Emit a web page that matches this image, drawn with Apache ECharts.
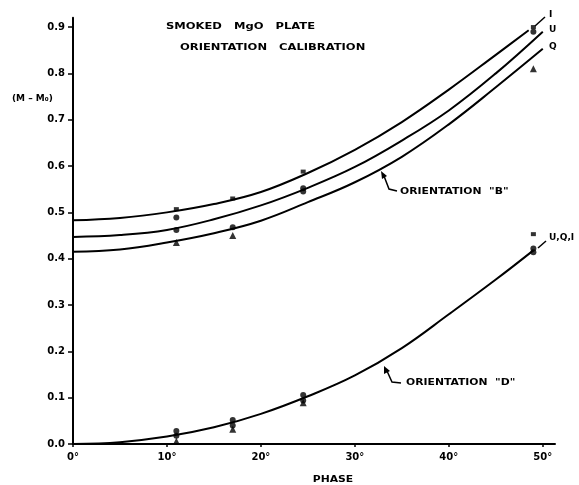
<!DOCTYPE html>
<html>
<head>
<meta charset="utf-8">
<script src="https://cdn.jsdelivr.net/npm/echarts@6/dist/echarts.min.js"></script>
<style>
  html, body { margin: 0; padding: 0; background: #fff; }
  #chart { width: 579px; height: 485px; }
</style>
</head>
<body>
<div id="chart"></div>
<script>
// fitted curves
const phaseI = [0, 5, 10, 15, 20, 25, 30, 35, 40, 45, 48.5]
const curveI = [0.483, 0.488, 0.500, 0.518, 0.544, 0.585, 0.635, 0.695, 0.765, 0.840, 0.893]
const phaseUQ = [0, 5, 10, 15, 20, 25, 30, 35, 40, 45, 50]
const curveU = [0.447, 0.451, 0.462, 0.485, 0.515, 0.553, 0.598, 0.655, 0.720, 0.800, 0.890]
const curveQ = [0.415, 0.420, 0.435, 0.455, 0.482, 0.522, 0.565, 0.620, 0.690, 0.770, 0.853]
const phaseD = [0, 5, 10, 15, 20, 25, 30, 35, 40, 45, 49]
const curveD = [0.000, 0.004, 0.016, 0.036, 0.065, 0.103, 0.148, 0.207, 0.280, 0.355, 0.418]

// measured points [phase, M - M0]
const crossPts = [[11, 0.507], [17, 0.530], [24.5, 0.588], [49, 0.900], [49, 0.453]]
const circlePts = [
  [11, 0.489], [11, 0.462], [17, 0.468], [24.5, 0.552], [24.5, 0.545], [49, 0.890],
  [11, 0.028], [11, 0.018], [17, 0.052], [17, 0.040], [24.5, 0.106], [24.5, 0.094],
  [49, 0.422], [49, 0.414]
]
const trianglePts = [[11, 0.435], [17, 0.450], [49, 0.810], [11, 0.006], [17, 0.032], [24.5, 0.089]]

const xTicks = [0, 10, 20, 30, 40, 50]

const zip = (xs, ys) => xs.map((x, i) => [x, ys[i]])

const chart = echarts.init(document.getElementById('chart'))

const FONT = '"DejaVu Sans", sans-serif'
const txt = (text, x, y, extra) => Object.assign({
  type: 'text',
  x, y,
  style: { text, font: 'bold 9px ' + FONT, fill: '#000', textVerticalAlign: 'middle' },
}, extra || {})

const curve = (name, data) => ({
  name,
  type: 'line',
  data,
  smooth: 0.4,
  showSymbol: false,
  lineStyle: { color: '#000', width: 2 },
  z: 2,
})

const points = (name, data, symbol, size) => ({
  name,
  type: 'scatter',
  data,
  symbol,
  symbolSize: size,
  itemStyle: { color: '#000' },
  z: 3,
})

chart.setOption({
  backgroundColor: '#fff',
  animation: false,
  grid: { left: 73, right: 24, top: 17.8, bottom: 41 },
  xAxis: {
    type: 'value',
    min: 0,
    max: 51.3,
    interval: 10,
    axisLine: { lineStyle: { color: '#000', width: 2 } },
    axisTick: { show: true, length: 3, inside: false, lineStyle: { color: '#000', width: 1.5 },
      customValues: xTicks },
    axisLabel: {
      color: '#000', fontFamily: FONT, fontWeight: 'bold', fontSize: 10, margin: 8,
      customValues: xTicks,
      formatter: v => v + '°',
    },
    splitLine: { show: false },
  },
  yAxis: {
    type: 'value',
    min: 0,
    max: 0.92,
    interval: 0.1,
    axisLine: { show: true, lineStyle: { color: '#000', width: 2 } },
    axisTick: { show: true, length: 5, lineStyle: { color: '#000', width: 1.5 } },
    axisLabel: {
      color: '#000', fontFamily: FONT, fontWeight: 'bold', fontSize: 10, margin: 8,
      showMaxLabel: false,
      formatter: v => v.toFixed(1),
    },
    splitLine: { show: false },
  },
  series: [
    curve('I', zip(phaseI, curveI)),
    curve('U', zip(phaseUQ, curveU)),
    curve('Q', zip(phaseUQ, curveQ)),
    curve('D', zip(phaseD, curveD)),
    points('cross', crossPts, 'rect', [5, 4]),
    points('circle', circlePts, 'circle', 6),
    points('triangle', trianglePts, 'triangle', 7),
  ],
  graphic: [
    txt('SMOKED   MgO   PLATE', 166, 27, { scaleX: 1.28 }),
    txt('ORIENTATION   CALIBRATION', 180, 48, { scaleX: 1.28 }),
    txt('(M – M₀)', 12, 99),
    txt('PHASE', 333, 480, { style: { text: 'PHASE', font: 'bold 9px ' + FONT, fill: '#000',
      textAlign: 'center', textVerticalAlign: 'middle' }, scaleX: 1.2 }),
    txt('ORIENTATION  "B"', 400, 192, { scaleX: 1.2 }),
    txt('ORIENTATION  "D"', 406, 383, { scaleX: 1.2 }),
    txt('I', 549, 15),
    txt('U', 549, 30),
    txt('Q', 549, 47),
    txt('U,Q,I', 549, 238),
    // leaders to the curve labels
    { type: 'line', shape: { x1: 535, y1: 26, x2: 545, y2: 17 }, style: { stroke: '#000', lineWidth: 1.5 } },
    { type: 'line', shape: { x1: 538, y1: 248, x2: 546, y2: 241 }, style: { stroke: '#000', lineWidth: 1.5 } },
    // arrows to the orientation curves
    { type: 'polyline', shape: { points: [[384, 176], [389, 189], [397, 191]] }, style: { stroke: '#000', lineWidth: 1.5, fill: null } },
    { type: 'polygon', shape: { points: [[381, 171], [382, 179], [387, 176]] }, style: { fill: '#000' } },
    { type: 'polyline', shape: { points: [[387, 371], [392, 382], [401, 383]] }, style: { stroke: '#000', lineWidth: 1.5, fill: null } },
    { type: 'polygon', shape: { points: [[384, 366], [384, 374], [390, 371]] }, style: { fill: '#000' } },
  ],
})
</script>
</body>
</html>
